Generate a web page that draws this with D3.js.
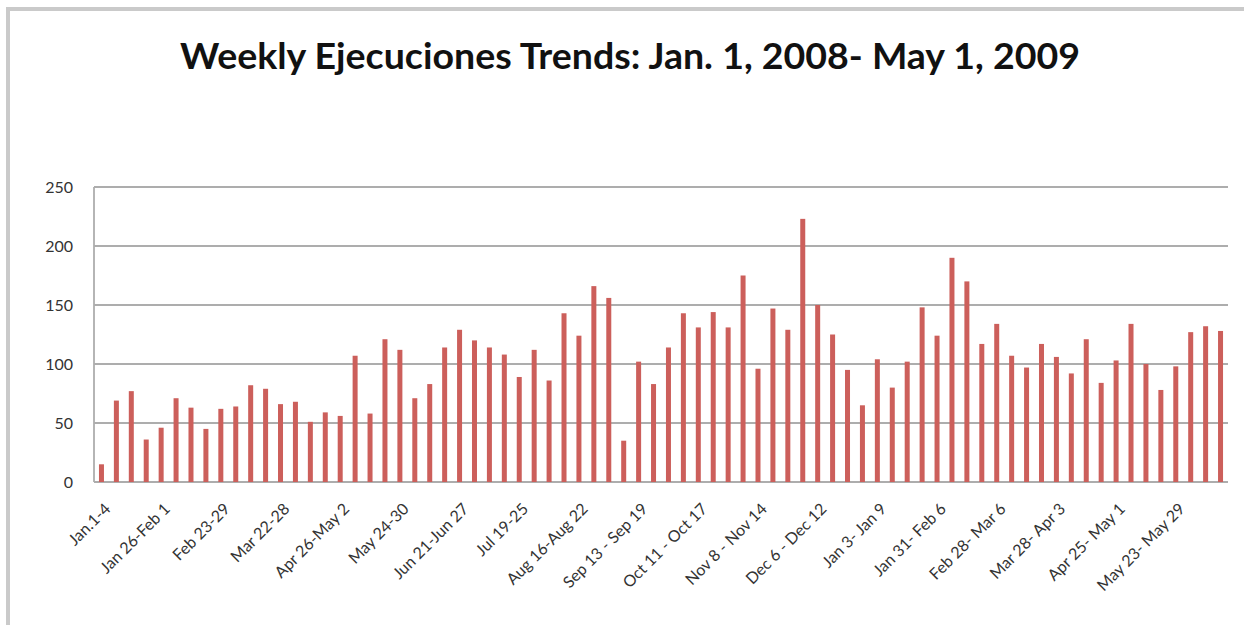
<!DOCTYPE html>
<html>
<head>
<meta charset="utf-8" />
<title>Weekly Ejecuciones Trends</title>
<style type="text/css">
  html, body { margin: 0; background: #fff; }
  svg { display: block; }
  .grid line { stroke: #adadad; stroke-width: 1.8px; }
  .ylab text { font-family: Lato, "Open Sans", sans-serif; font-size: 16px; fill: #333; }
  .xlab text { font-family: Lato, "Open Sans", sans-serif; font-size: 16px; fill: #333; }
</style>
</head>
<body>
<div id="container"></div>
<script src="https://cdn.jsdelivr.net/npm/d3@7"></script>
<script>
// weekly counts, Jan 2008 - May 2009
var values = [15, 69, 77, 36, 46, 71, 63, 45, 62, 64,
  82, 79, 66, 68, 51, 59, 56, 107, 58, 121,
  112, 71, 83, 114, 129, 120, 114, 108, 89, 112,
  86, 143, 124, 166, 156, 35, 102, 83, 114, 143,
  131, 144, 131, 175, 96, 147, 129, 223, 150, 125,
  95, 65, 104, 80, 102, 148, 124, 190, 170, 117,
  134, 107, 97, 117, 106, 92, 121, 84, 103, 134,
  100, 78, 98, 127, 132, 128];

// only every 4th week carries a label
var tickLabels = ["Jan.1-4", "Jan 26-Feb 1", "Feb 23-29", "Mar 22-28", "Apr 26-May 2",
  "May 24-30", "Jun 21-Jun 27", "Jul 19-25", "Aug 16-Aug 22", "Sep 13 - Sep 19",
  "Oct 11 - Oct 17", "Nov 8 - Nov 14", "Dec 6 - Dec 12", "Jan 3- Jan 9", "Jan 31- Feb 6",
  "Feb 28- Mar 6", "Mar 28- Apr 3", "Apr 25- May 1", "May 23- May 29"];
var yTicks = [0, 50, 100, 150, 200, 250];

var title = "Weekly Ejecuciones Trends: Jan. 1, 2008- May 1, 2009";

var W = 1244, H = 625;
var plotL = 94, plotR = 1228, plotT = 187, plotB = 482;
var barW = 5;

var svg = d3.select("#container").append("svg")
    .attr("width", W)
    .attr("height", H);

// light grey frame (top & left edge of the screenshot)
svg.append("rect").attr("x", 6).attr("y", 7).attr("width", W - 6).attr("height", 4).attr("fill", "#cacaca");
svg.append("rect").attr("x", 6).attr("y", 7).attr("width", 4).attr("height", H - 7).attr("fill", "#cacaca");

svg.append("text")
    .attr("x", 630)
    .attr("y", 69)
    .attr("text-anchor", "middle")
    .attr("textLength", 900)
    .attr("lengthAdjust", "spacingAndGlyphs")
    .style("font-family", "Lato, 'Open Sans', sans-serif")
    .style("font-weight", "bold")
    .style("font-size", "36px")
    .style("fill", "#111")
    .text(title);

var x = d3.scaleBand()
    .domain(d3.range(values.length))
    .range([plotL, plotR])
    .padding(0);

var y = d3.scaleLinear()
    .domain([0, 250])
    .range([plotB, plotT]);

// gridlines
svg.append("g").attr("class", "grid")
  .selectAll("line")
  .data(yTicks)
  .enter().append("line")
    .attr("x1", plotL)
    .attr("x2", plotR)
    .attr("y1", function(d) { return y(d); })
    .attr("y2", function(d) { return y(d); });

// y axis line
svg.append("line")
    .attr("x1", plotL).attr("x2", plotL)
    .attr("y1", plotT).attr("y2", plotB)
    .attr("stroke", "#adadad").attr("stroke-width", 1.8);

var yAxis = d3.axisLeft(y).tickValues(yTicks).tickSize(0).tickPadding(21);
svg.append("g")
    .attr("class", "ylab")
    .attr("transform", "translate(" + plotL + ",0)")
    .call(yAxis)
    .call(function(g) { g.select(".domain").remove(); });

// bars
svg.append("g")
  .selectAll("rect")
  .data(values)
  .enter().append("rect")
    .attr("x", function(d, i) { return x(i) + x.bandwidth() / 2 - barW / 2; })
    .attr("y", function(d) { return y(d); })
    .attr("width", barW)
    .attr("height", function(d) { return y(0) - y(d); })
    .attr("fill", "#cc5f5b");

// x labels, rotated
var labelIdx = d3.range(0, values.length, 4);
var xAxis = d3.axisBottom(x)
    .tickValues(labelIdx)
    .tickSize(0)
    .tickFormat(function(d, i) { return tickLabels[i]; });

svg.append("g")
    .attr("class", "xlab")
    .attr("transform", "translate(0," + plotB + ")")
    .call(xAxis)
    .call(function(g) { g.select(".domain").remove(); })
    .selectAll("text")
      .attr("text-anchor", "end")
      .attr("dy", null)
      .attr("y", 0)
      .attr("transform", "translate(10,28) rotate(-45)");
</script>
</body>
</html>
